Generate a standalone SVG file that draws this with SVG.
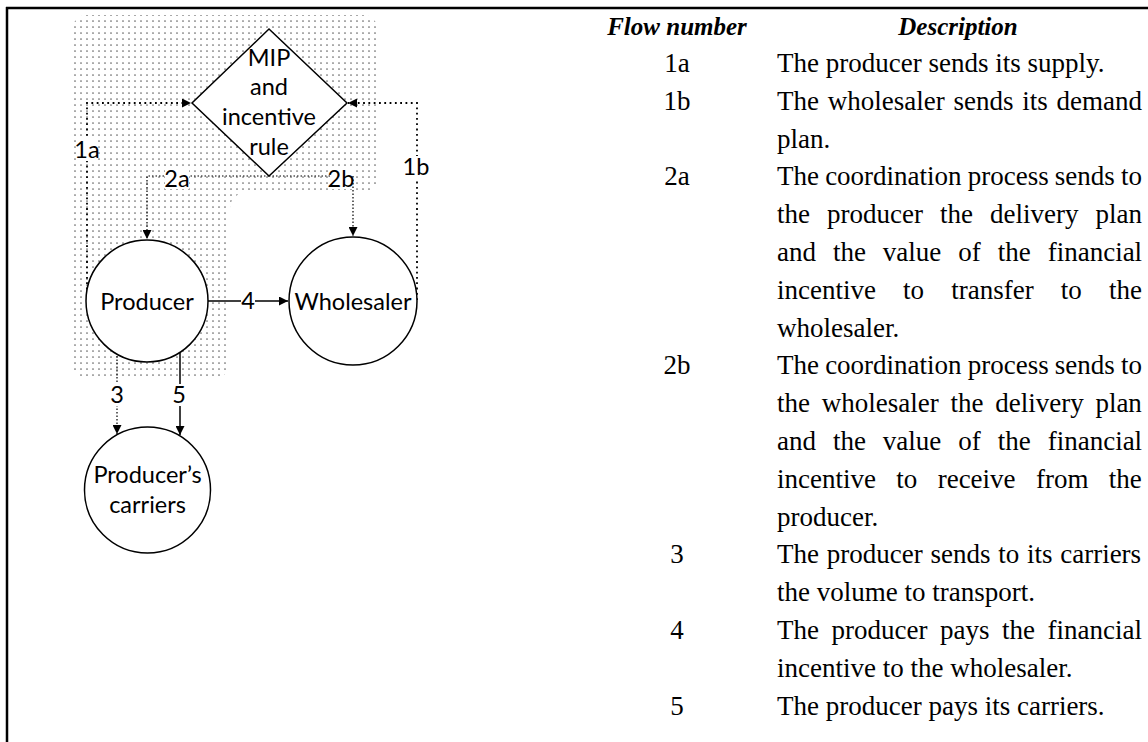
<svg xmlns="http://www.w3.org/2000/svg" width="1148" height="742" viewBox="0 0 1148 742">
<defs>
  <pattern id="dots" width="6" height="6" patternUnits="userSpaceOnUse">
    <circle cx="3" cy="3" r="0.85" fill="#666"/>
  </pattern>
  <marker id="ah" viewBox="0 0 10 10" refX="10" refY="5" markerWidth="9" markerHeight="9" markerUnits="userSpaceOnUse" orient="auto">
    <path d="M0,0 L10,5 L0,10 z" fill="#000"/>
  </marker>
  <style>
    .lbl{font-family:Lato,"Open Sans","Liberation Sans",sans-serif;font-size:23.5px;fill:#000;text-anchor:middle}
    .node{fill:#fff;stroke:#000;stroke-width:1.5}
    .dot1{fill:none;stroke:#000;stroke-width:1.8;stroke-dasharray:1.8 3.5}
    .dot2{fill:none;stroke:#000;stroke-width:1.2;stroke-dasharray:1.5 2}
    .solid{fill:none;stroke:#000;stroke-width:1.5}
    .bg{fill:#fff}
    .th{font-family:"Liberation Serif","Times New Roman",serif;font-size:25px;font-weight:bold;font-style:italic;fill:#000;text-anchor:middle}
    .td{font-family:"Liberation Serif","Times New Roman",serif;font-size:27px;fill:#000}
    .num{text-anchor:middle}
  </style>
</defs>
<rect width="1148" height="742" fill="#fff"/>
<!-- frame -->
<g id="frame">
  <line x1="6" y1="8" x2="1148" y2="8" stroke="#000" stroke-width="2.5"/>
  <line x1="7" y1="7" x2="7" y2="742" stroke="#000" stroke-width="2.5"/>
</g>
<!-- shaded coordination region -->
<g id="region">
  <path d="M87,15 H363 A15,15 0 0 1 378,30 V178 A15,15 0 0 1 363,193 H245 A15,15 0 0 0 230,208 V363 A15,15 0 0 1 215,378 H87 A15,15 0 0 1 72,363 V30 A15,15 0 0 1 87,15 Z" fill="url(#dots)"/>
</g>
<!-- connectors -->
<g id="connectors">
  <polyline class="dot1" points="87,300 87,103 191,103" marker-end="url(#ah)"/>
  <polyline class="dot1" points="417,300 417,103 348,103" marker-end="url(#ah)"/>
  <polyline class="dot2" points="269,176 147,176 147,239" marker-end="url(#ah)"/>
  <polyline class="dot2" points="269,176 353,176 353,236" marker-end="url(#ah)"/>
  <line class="solid" x1="208" y1="301" x2="288" y2="301" marker-end="url(#ah)"/>
  <line class="dot2" x1="117" y1="356" x2="117" y2="434" marker-end="url(#ah)"/>
  <line class="solid" x1="180" y1="353" x2="180" y2="435" marker-end="url(#ah)"/>
  <rect class="bg" x="76" y="139" width="22" height="22"/>
  <text class="lbl" x="87" y="158">1a</text>
  <rect class="bg" x="405" y="156" width="23" height="22"/>
  <text class="lbl" x="416" y="175">1b</text>
  <rect class="bg" x="165" y="168" width="24" height="21"/>
  <text class="lbl" x="177" y="187">2a</text>
  <rect class="bg" x="330" y="168" width="22" height="21"/>
  <text class="lbl" x="341" y="187">2b</text>
  <rect class="bg" x="241" y="290" width="14" height="22"/>
  <text class="lbl" x="248" y="309">4</text>
  <rect class="bg" x="110" y="384" width="14" height="22"/>
  <text class="lbl" x="117" y="403">3</text>
  <rect class="bg" x="172" y="384" width="14" height="22"/>
  <text class="lbl" x="179" y="403">5</text>
</g>
<!-- nodes -->
<g id="node-mip">
  <polygon class="node" points="269,29 347,103 269,176 192,103"/>
  <text class="lbl" x="269" y="66">MIP</text>
  <text class="lbl" x="269" y="95">and</text>
  <text class="lbl" x="269" y="125">incentive</text>
  <text class="lbl" x="269" y="155">rule</text>
</g>
<g id="node-producer">
  <circle class="node" cx="147" cy="301" r="61"/>
  <text class="lbl" x="147" y="310">Producer</text>
</g>
<g id="node-wholesaler">
  <circle class="node" cx="353" cy="301" r="64"/>
  <text class="lbl" x="353" y="310">Wholesaler</text>
</g>
<g id="node-carriers">
  <circle class="node" cx="147.5" cy="490" r="63"/>
  <text class="lbl" x="147.5" y="483">Producer’s</text>
  <text class="lbl" x="147.5" y="513">carriers</text>
</g>
<!-- table -->
<g id="table">
  <text class="th" x="677" y="35">Flow number</text>
  <text class="th" x="958" y="35">Description</text>
  <g class="td">
    <text class="td num" x="677" y="72">1a</text>
    <text class="td" x="777" y="72">The producer sends its supply.</text>
    <text class="td num" x="677" y="109.8">1b</text>
    <text class="td" x="777" y="109.8" word-spacing="2">The wholesaler sends its demand</text>
    <text class="td" x="777" y="147.6">plan.</text>
    <text class="td num" x="677" y="185.4">2a</text>
    <text class="td" x="777" y="185.4" word-spacing="-0.6">The coordination process sends to</text>
    <text class="td" x="777" y="223.2" word-spacing="10.3">the producer the delivery plan</text>
    <text class="td" x="777" y="261" word-spacing="10.2">and the value of the financial</text>
    <text class="td" x="777" y="298.8" word-spacing="20.4">incentive to transfer to the</text>
    <text class="td" x="777" y="336.6">wholesaler.</text>
    <text class="td num" x="677" y="374.4">2b</text>
    <text class="td" x="777" y="374.4" word-spacing="-0.6">The coordination process sends to</text>
    <text class="td" x="777" y="412.2" word-spacing="5">the wholesaler the delivery plan</text>
    <text class="td" x="777" y="450" word-spacing="10.2">and the value of the financial</text>
    <text class="td" x="777" y="487.8" word-spacing="13.6">incentive to receive from the</text>
    <text class="td" x="777" y="525.6">producer.</text>
    <text class="td num" x="677" y="563.4">3</text>
    <text class="td" x="777" y="563.4" word-spacing="1">The producer sends to its carriers</text>
    <text class="td" x="777" y="601.2">the volume to transport.</text>
    <text class="td num" x="677" y="639">4</text>
    <text class="td" x="777" y="639" word-spacing="5.8">The producer pays the financial</text>
    <text class="td" x="777" y="676.8">incentive to the wholesaler.</text>
    <text class="td num" x="677" y="714.6">5</text>
    <text class="td" x="777" y="714.6">The producer pays its carriers.</text>
  </g>
</g>
</svg>
